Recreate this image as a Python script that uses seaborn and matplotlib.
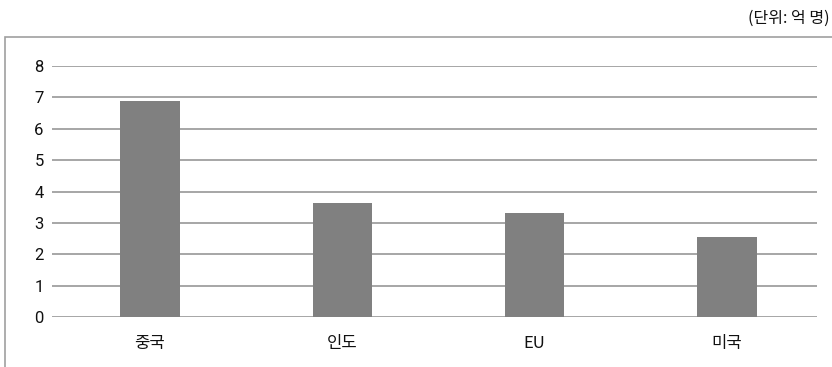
import matplotlib
matplotlib.use("Agg")
import matplotlib.pyplot as plt
import seaborn as sns
import pandas as pd
from matplotlib.patches import Rectangle

# Data (단위: 억 명)
regions = ["중국", "인도", "EU", "미국"]
values = [6.87, 3.64, 3.32, 2.56]
y_ticks = [0, 1, 2, 3, 4, 5, 6, 7, 8]

sns.set_theme(style="white")
plt.rcParams["font.family"] = ["Noto Sans CJK KR", "DejaVu Sans"]

W, H = 832, 367
fig = plt.figure(figsize=(W / 100, H / 100), dpi=100)
ax = fig.add_axes([52 / W, 1 - 317 / H, (817 - 52) / W, (317 - 66) / H])

df = pd.DataFrame({"region": regions, "value": values})
sns.barplot(data=df, x="region", y="value", color="#808080", saturation=1,
            width=0.307, linewidth=0, edgecolor="none", ax=ax, zorder=3)

ax.set_ylim(0, 8)
ax.set_xlim(-0.5095, 3.468)
ax.set_yticks(y_ticks)
ax.yaxis.grid(True, color="#a6a6a6", linewidth=1.4, zorder=0)
ax.set_axisbelow(True)
for s in ax.spines.values():
    s.set_visible(False)
ax.set_xlabel("")
ax.set_ylabel("")
ax.tick_params(axis="y", length=0, pad=6, labelsize=12, colors="#111111")
ax.tick_params(axis="x", length=0, pad=13, labelsize=12, colors="#111111")
for lbl in ax.get_yticklabels():
    lbl.set_fontfamily(["Roboto", "DejaVu Sans"])

# Chart frame
fig.patches.append(Rectangle((4.5 / W, -0.02), 1.05, 1 - 37 / H + 0.02,
                             transform=fig.transFigure, fill=False,
                             edgecolor="#a0a0a0", linewidth=1.2))

fig.text(830 / W, 1 - 18 / H, "(단위: 억 명)", ha="right", va="center",
         fontsize=11.5, color="#111111")

fig.savefig("out.png", dpi=100)
